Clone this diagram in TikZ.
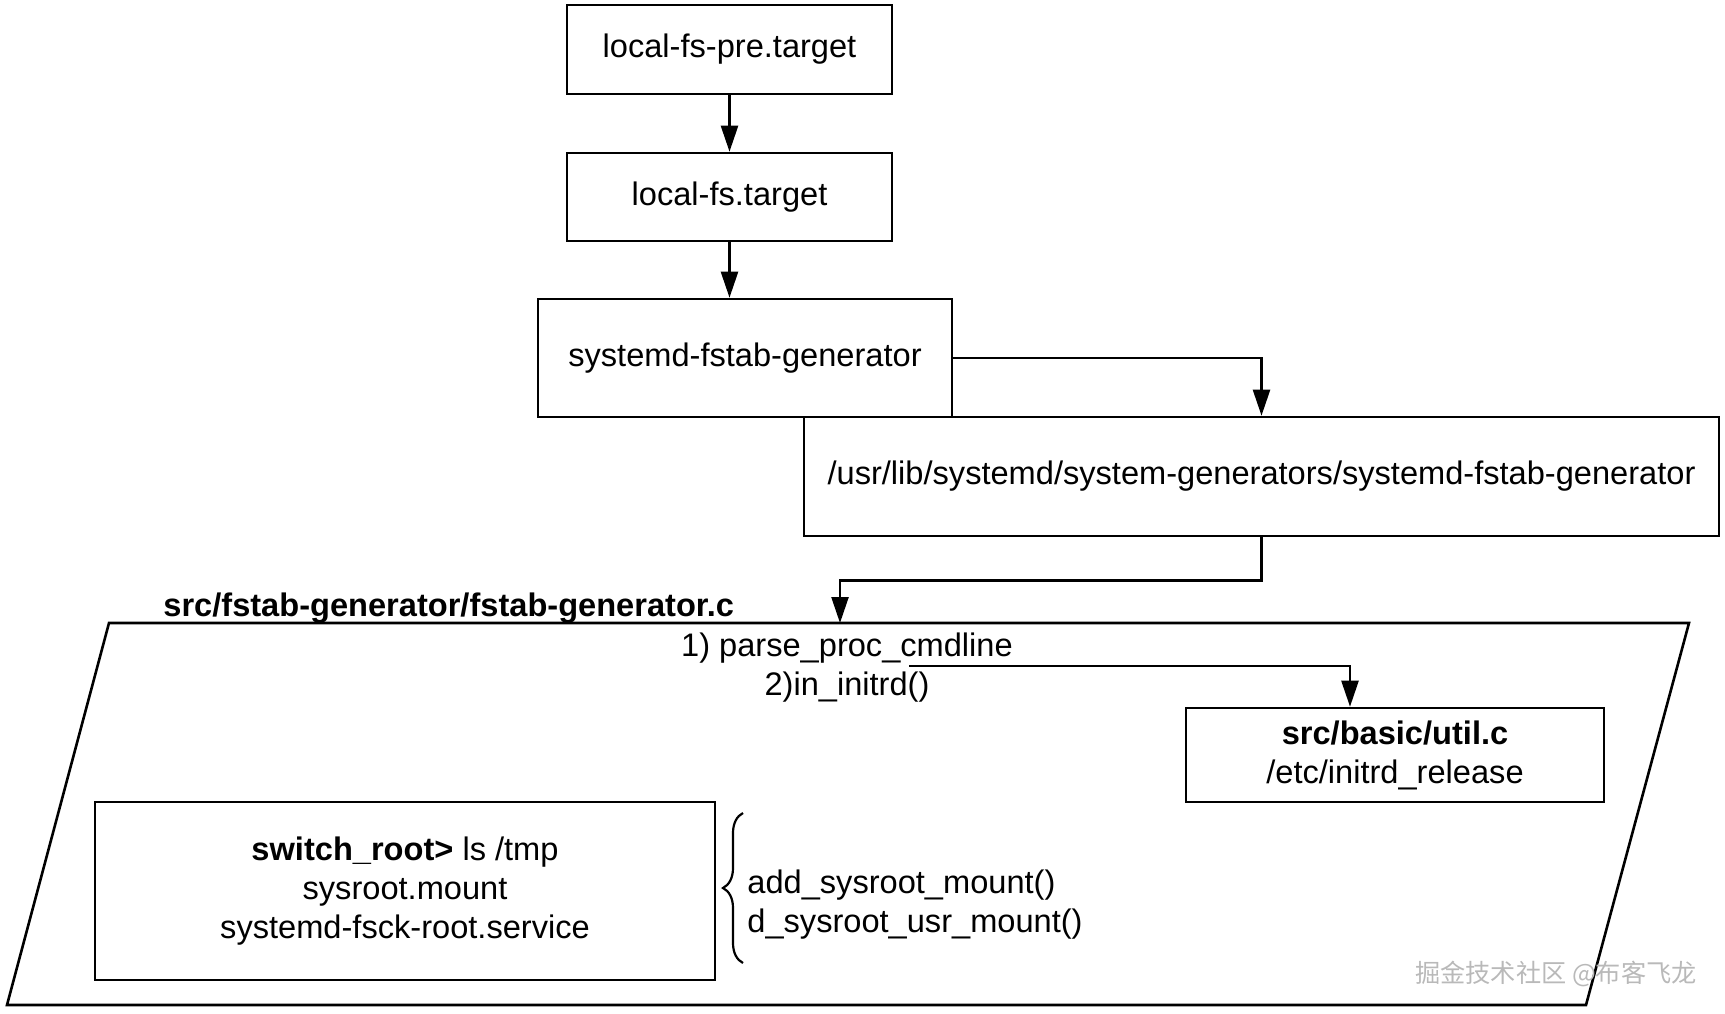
\documentclass[tikz,border=0pt]{standalone}
\usepackage{fontspec}
\setmainfont{Liberation Sans}
\newfontfamily\cjkfont{Noto Sans CJK SC}
\usepackage{tikz}
\usetikzlibrary{calc,positioning,arrows.meta,decorations.pathreplacing}

\tikzset{
	unit/.style={draw, line width=1.3pt, inner sep=0pt, align=center},
	flow/.style={line width=1.2pt, -{Triangle[length=13pt,width=8.5pt]}},
	frame/.style={draw, line width=1.3pt, line join=miter},
	calls/.style={decorate, decoration={brace, amplitude=10pt}, line width=1.1pt},
}

\begin{document}
\begin{tikzpicture}[x=0.5pt, y=-0.5pt, font=\fontsize{16.3}{19.5}\selectfont]
	\useasboundingbox (0,0) rectangle (1725,1013);
	\begin{scope}
		% chain of units
		\node(pre) [unit, minimum width=162.5pt, minimum height=44.5pt] at (729.5,49.5) {local-fs-pre.target};
		\node(localfs) [unit, minimum width=162.5pt, minimum height=44pt, below=28.2pt of pre] {local-fs.target};
		\node(gen) [unit, minimum width=207pt, minimum height=59pt] at (745,358) {systemd-fstab-generator};
		\node(bin) [unit, minimum width=457.5pt, minimum height=59.5pt] at (1261.5,476.5) {/usr/lib/systemd/system-generators/systemd-fstab-generator};
		\path
			(pre.south) edge[flow] (localfs.north)
			(localfs.south) edge[flow] (localfs.south |- gen.north);
		\draw[flow] (gen.east) -| (bin.north);
	\end{scope}
	\begin{scope}
		% source file
		\draw[frame] (109,623) coordinate (srctl) -- (1689,623) coordinate (srctr) -- (1586,1005) -- (7,1005) -- cycle;
		\coordinate (srcin) at (840,623);
		\node(srcname) [anchor=base west, inner sep=0pt] at (163,616) {\textbf{src/fstab-generator/fstab-generator.c}};
		\node(steps) [align=center, inner sep=0pt] at (847,668) {1) parse\_proc\_cmdline\\2)in\_initrd()};
		\node(util) [unit, minimum width=209pt, minimum height=47pt] at (1395,755) {\textbf{src/basic/util.c}\\/etc/initrd\_release};
		\node(root) [unit, minimum width=310pt, minimum height=89pt, font=\fontsize{16.3}{19.6}\selectfont] at (405,891) {\textbf{switch\_root>} ls /tmp\\sysroot.mount\\systemd-fsck-root.service};
		\node(mount) [anchor=west, align=left, inner sep=0pt] at (747,905) {add\_sysroot\_mount()\\d\_sysroot\_usr\_mount()};
		\coordinate (cmd) at (909,666);
		\draw[flow] (bin.south) -- ++(0,43) -| (srcin);
		\draw[flow] (cmd) -| ([xshift=-22.5pt]util.north);
		\draw[calls] (743,963) -- (743,813);
	\end{scope}
	\node(mark) [text=gray!55, inner sep=0pt, font=\cjkfont\fontsize{12.6}{14}\selectfont] at (1556,974) {掘金技术社区 @布客飞龙};
\end{tikzpicture}
\end{document}
